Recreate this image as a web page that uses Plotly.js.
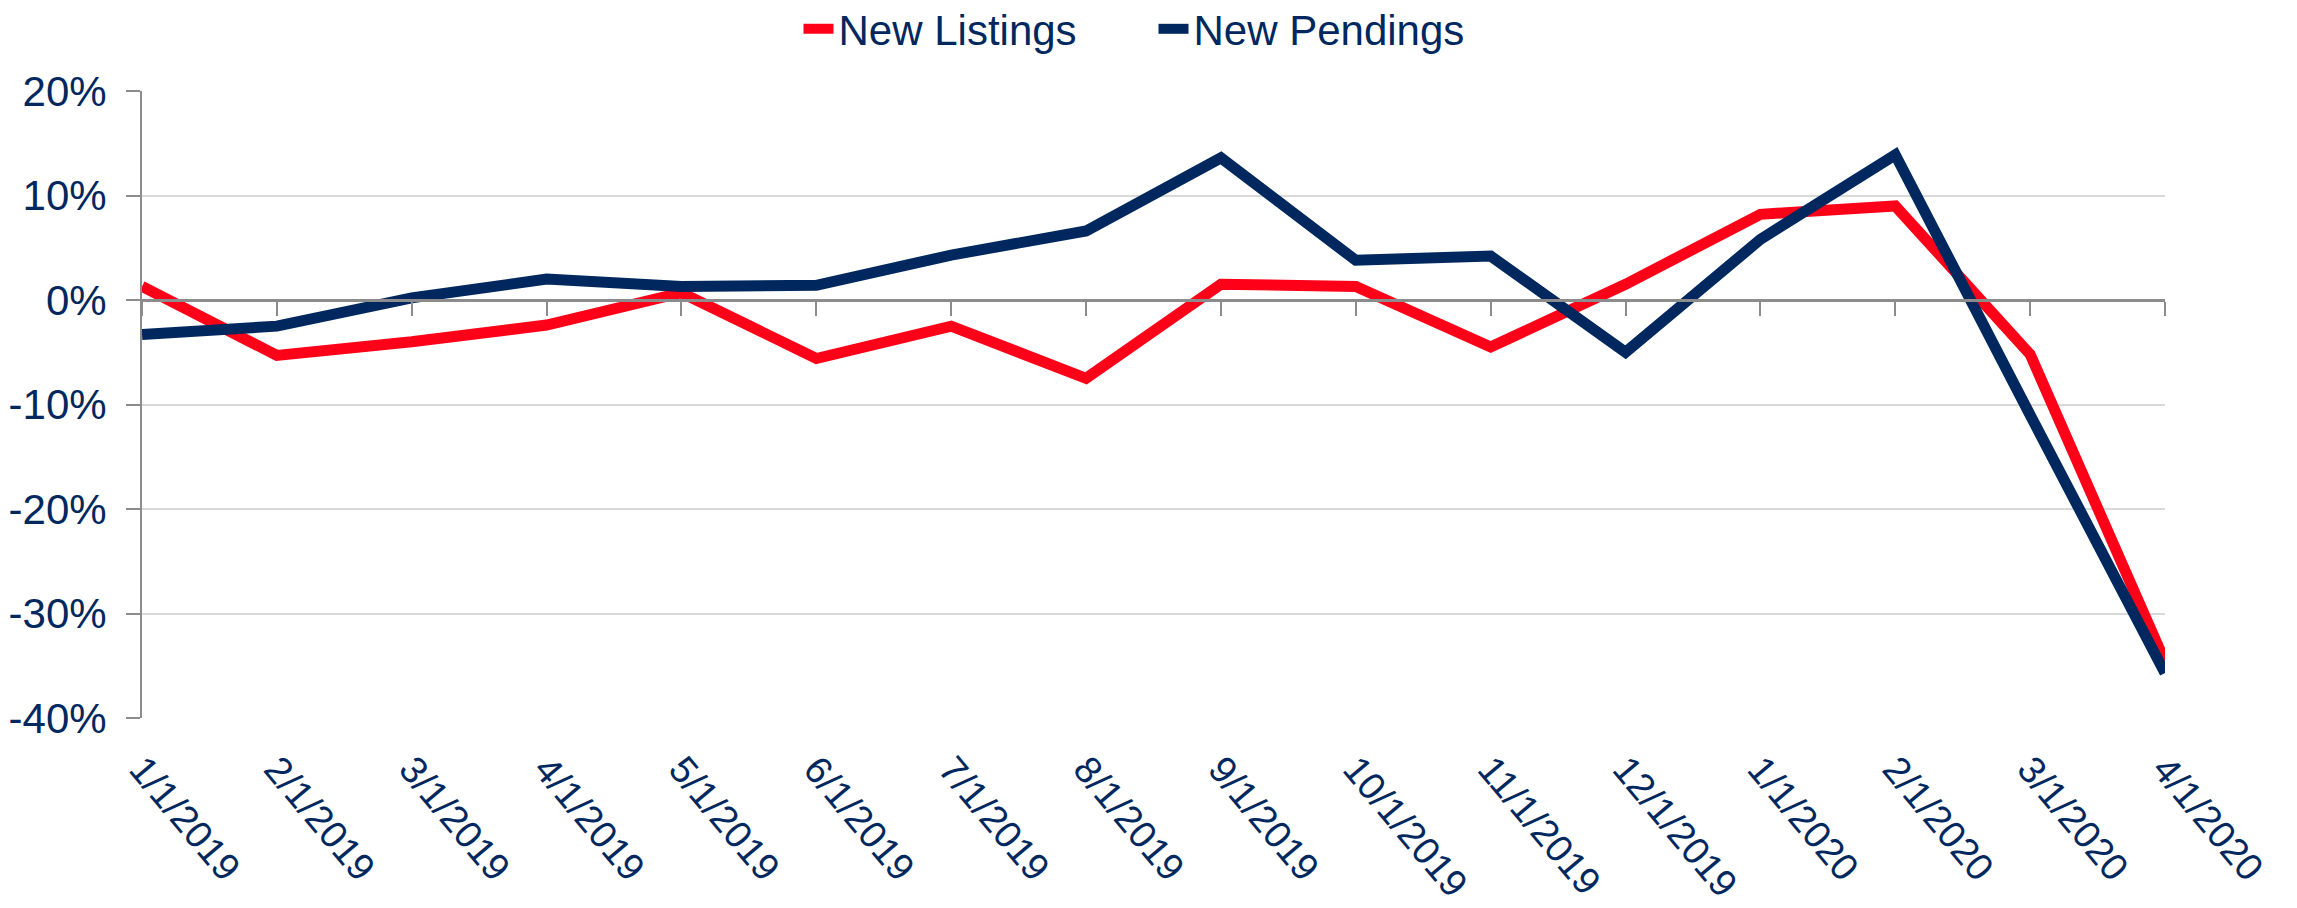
<!DOCTYPE html>
<html>
<head>
<meta charset="utf-8">
<script src="https://cdn.plot.ly/plotly-3.0.1.min.js"></script>
<style>
  html, body { margin: 0; padding: 0; background: #ffffff; }
  #chart { width: 2297px; height: 908px; }
</style>
</head>
<body>
<div id="chart"></div>
<script>
const categories = ["1/1/2019","2/1/2019","3/1/2019","4/1/2019","5/1/2019","6/1/2019","7/1/2019","8/1/2019",
                    "9/1/2019","10/1/2019","11/1/2019","12/1/2019","1/1/2020","2/1/2020","3/1/2020","4/1/2020"];
const newListings = [1.3, -5.3, -4.0, -2.4, 0.7, -5.6, -2.5, -7.5, 1.5, 1.3, -4.5, 1.5, 8.2, 9.0, -5.2, -34.6];
const newPendings = [-3.3, -2.5, 0.2, 2.0, 1.3, 1.4, 4.3, 6.6, 13.6, 3.8, 4.2, -5.0, 5.8, 13.9, -11.0, -35.7];
const yTickVals = [-40, -30, -20, -10, 0, 10, 20];
const yTickText = ["-40%", "-30%", "-20%", "-10%", "0%", "10%", "20%"];

const navy = "#00285E";
const red = "#FF0019";
const fontFam = "'Liberation Sans', Arial, sans-serif";

const traces = [
  {x: categories, y: newListings, name: "New Listings", type: "scatter", mode: "lines",
   line: {color: red, width: 11}},
  {x: categories, y: newPendings, name: "New Pendings", type: "scatter", mode: "lines",
   line: {color: navy, width: 11}},
  {x: categories, y: categories.map(() => null), xaxis: "x2", yaxis: "y", type: "scatter", mode: "lines",
   showlegend: false, hoverinfo: "skip"}
];

const layout = {
  width: 2297, height: 908,
  paper_bgcolor: "#ffffff", plot_bgcolor: "#ffffff",
  margin: {l: 142, r: 132, t: 91, b: 190, autoexpand: false},
  font: {family: fontFam, color: navy, size: 40},
  showlegend: true,
  legend: {orientation: "h", xref: "paper", x: 0.5, xanchor: "center",
           yref: "container", y: 1 - 29 / 908, yanchor: "middle",
           font: {family: fontFam, size: 42, color: navy}, entrywidth: 310, tracegroupgap: 0,
           bgcolor: "rgba(0,0,0,0)"},
  xaxis: {type: "category", categoryorder: "array", categoryarray: categories,
          range: [0, categories.length - 1],
          showgrid: false, zeroline: false, showline: false, ticks: "",
          tickangle: 50, ticklabelstandoff: 20,
          tickfont: {family: fontFam, size: 38, color: navy}},
  xaxis2: {type: "category", categoryorder: "array", categoryarray: categories,
           range: [0, categories.length - 1], overlaying: "x", anchor: "free", position: 2/3,
           side: "bottom", showgrid: false, zeroline: false, showline: true, linecolor: "#8C8C8C", linewidth: 3,
           ticks: "outside", ticklen: 14, tickwidth: 2, tickcolor: "#8C8C8C", showticklabels: false},
  yaxis: {range: [-40, 20], tickmode: "array", tickvals: yTickVals, ticktext: yTickText, domain: [0, 1],
          showgrid: true, gridcolor: "#D9D9D9", gridwidth: 2,
          zeroline: false, showline: true, linecolor: "#8C8C8C", linewidth: 2,
          ticks: "outside", ticklen: 14, tickwidth: 2, tickcolor: "#8C8C8C",
          ticklabelstandoff: 11,
          tickfont: {family: fontFam, size: 42, color: navy}}
};

Plotly.newPlot("chart", traces, layout, {displayModeBar: false, staticPlot: true});
</script>
</body>
</html>
